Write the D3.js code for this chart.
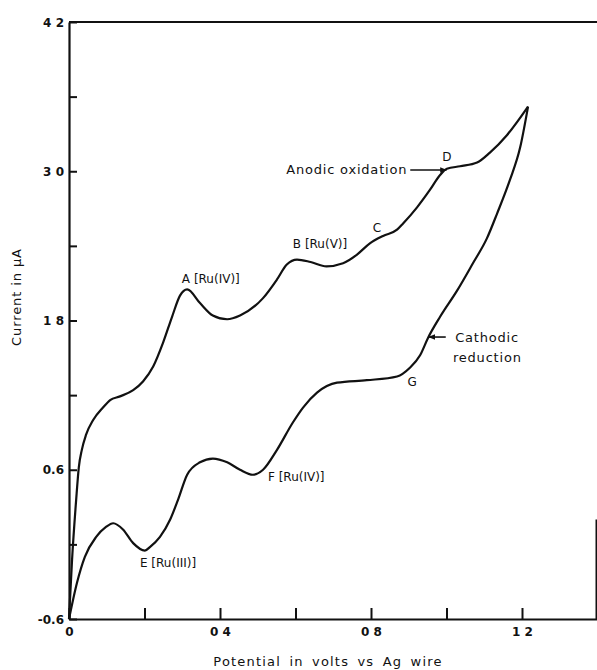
<!DOCTYPE html>
<html>
<head>
<meta charset="utf-8">
<script src="https://cdn.jsdelivr.net/npm/d3@7"></script>
<style>
  body { margin: 0; background: #fff; }
  svg { display: block; }
  text { font-family: "DejaVu Sans", sans-serif; fill: #111; }
  .tick text { font-weight: bold; font-size: 12px; }
  .ann { font-size: 12px; }
  .ann.wide { font-size: 13px; letter-spacing: 0.8px; }
</style>
</head>
<body>
<div id="chart"></div>
<script>
// anodic sweep (upper branch), potential in V, current in uA
var anodicV = [0, 0.008, 0.019, 0.026, 0.034, 0.045, 0.064, 0.090, 0.109, 0.135, 0.170, 0.196, 0.223, 0.249, 0.273, 0.294, 0.313,
  0.347, 0.381, 0.419, 0.453, 0.514, 0.551, 0.577, 0.604, 0.640, 0.682, 0.726, 0.763, 0.797, 0.832, 0.869,
  0.885, 0.922, 0.956, 0.983, 1.001, 1.036, 1.081, 1.115, 1.160, 1.216];
var anodicI = [-0.6, -0.13, 0.36, 0.62, 0.76, 0.88, 1.00, 1.10, 1.16, 1.19, 1.24, 1.31, 1.43, 1.62, 1.83, 2.00, 2.05,
  1.94, 1.84, 1.81, 1.84, 1.98, 2.13, 2.25, 2.29, 2.27, 2.235, 2.26, 2.33, 2.42, 2.48, 2.53,
  2.58, 2.71, 2.85, 2.97, 3.02, 3.04, 3.07, 3.15, 3.29, 3.52];
// cathodic sweep (lower branch), from the turning point back to 0 V
var cathodicV = [1.216, 1.195, 1.168, 1.134, 1.107, 1.070, 1.028, 0.983, 0.951, 0.930, 0.903, 0.869, 0.789, 0.710,
  0.657, 0.620, 0.593, 0.551, 0.514, 0.487, 0.453, 0.419, 0.381, 0.347, 0.313, 0.289, 0.268, 0.241, 0.215, 0.201,
  0.170, 0.143, 0.117, 0.098, 0.072, 0.042, 0.021, 0];
var cathodicI = [3.52, 3.19, 2.93, 2.66, 2.46, 2.26, 2.04, 1.83, 1.66, 1.52, 1.42, 1.35, 1.32, 1.30,
  1.22, 1.10, 0.98, 0.76, 0.60, 0.56, 0.60, 0.66, 0.69, 0.66, 0.56, 0.36, 0.20, 0.06, -0.02, -0.05,
  0.01, 0.12, 0.17, 0.14, 0.06, -0.10, -0.31, -0.6];

var xTicks = [0, 0.2, 0.4, 0.6, 0.8, 1.0, 1.2];
var xTickLabels = ["0", "", "0 4", "", "0 8", "", "1 2"];
var yTicks = [-0.6, 0, 0.6, 1.2, 1.8, 2.4, 3.0, 3.6, 4.2];
var yTickLabels = ["-0.6", "", "0.6", "", "1 8", "", "3 0", "", "4 2"];

// text labels placed at data coordinates
var labels = [
  {text: "A [Ru(IV)]", v: 0.299, i: 2.10, anchor: "start", cls: "ann"},
  {text: "B [Ru(V)]", v: 0.593, i: 2.38, anchor: "start", cls: "ann"},
  {text: "C", v: 0.816, i: 2.51, anchor: "middle", cls: "ann"},
  {text: "D", v: 1.001, i: 3.08, anchor: "middle", cls: "ann"},
  {text: "Anodic oxidation", v: 0.896, i: 2.98, anchor: "end", cls: "ann wide"},
  {text: "Cathodic", v: 1.023, i: 1.63, anchor: "start", cls: "ann wide"},
  {text: "reduction", v: 1.017, i: 1.47, anchor: "start", cls: "ann wide"},
  {text: "G", v: 0.909, i: 1.27, anchor: "middle", cls: "ann"},
  {text: "F [Ru(IV)]", v: 0.527, i: 0.51, anchor: "start", cls: "ann"},
  {text: "E [Ru(III)]", v: 0.188, i: -0.18, anchor: "start", cls: "ann"}
];
var arrows = [
  {v0: 0.904, i0: 3.01, v1: 1.000, i1: 3.01},
  {v0: 0.998, i0: 1.667, v1: 0.953, i1: 1.667}
];

var W = 597, H = 670;
var svg = d3.select("#chart").append("svg")
  .attr("width", W)
  .attr("height", H);

var x = d3.scaleLinear().domain([0, 1.4]).range([69, 597.5]);
var y = d3.scaleLinear().domain([-0.6, 4.2]).range([619, 22]);

svg.append("defs").append("marker")
  .attr("id", "head")
  .attr("viewBox", "0 0 10 10")
  .attr("refX", 9).attr("refY", 5)
  .attr("markerWidth", 7).attr("markerHeight", 7)
  .attr("markerUnits", "userSpaceOnUse")
  .attr("orient", "auto")
  .append("path")
  .attr("d", "M0,1 L10,5 L0,9 Z")
  .attr("fill", "#111");

// axes, ticks pointing inwards
var xAxis = d3.axisBottom(x)
  .tickValues(xTicks)
  .tickSizeInner(-11).tickSizeOuter(0)
  .tickPadding(8)
  .tickFormat(function(d, i) { return xTickLabels[i]; });
var gx = svg.append("g")
  .attr("transform", "translate(0," + y(-0.6) + ")")
  .call(xAxis);

var yAxis = d3.axisLeft(y)
  .tickValues(yTicks)
  .tickSizeInner(-8).tickSizeOuter(0)
  .tickPadding(5)
  .tickFormat(function(d, i) { return yTickLabels[i]; });
var gy = svg.append("g")
  .attr("transform", "translate(" + x(0) + ",0)")
  .call(yAxis);

[gx, gy].forEach(function(g) {
  g.select(".domain").attr("stroke", "#111").attr("stroke-width", 2.2);
  g.selectAll(".tick line").attr("stroke", "#111").attr("stroke-width", 2);
  g.selectAll(".tick text").attr("fill", "#111");
});
gy.selectAll(".tick text").attr("dy", "0.35em");

// top edge and the short piece of right edge
svg.append("line")
  .attr("x1", x(0)).attr("x2", x(1.4))
  .attr("y1", y(4.2)).attr("y2", y(4.2))
  .attr("stroke", "#111").attr("stroke-width", 2.2);
svg.append("line")
  .attr("x1", x(1.4) - 1).attr("x2", x(1.4) - 1)
  .attr("y1", y(-0.6)).attr("y2", y(0.2))
  .attr("stroke", "#111").attr("stroke-width", 2);

// axis titles
svg.append("text")
  .attr("x", 328).attr("y", 666)
  .attr("text-anchor", "middle")
  .style("font-size", "13px")
  .style("letter-spacing", "1.2px")
  .style("word-spacing", "3px")
  .text("Potential in volts vs Ag wire");
svg.append("text")
  .attr("transform", "translate(21,297) rotate(-90)")
  .attr("text-anchor", "middle")
  .style("font-size", "13px")
  .style("letter-spacing", "0.9px")
  .text("Current in μA");

// voltammogram, both branches drawn left to right
var line = d3.line()
  .x(function(d) { return x(d[0]); })
  .y(function(d) { return y(d[1]); })
  .curve(d3.curveMonotoneX);

var anodic = anodicV.map(function(v, k) { return [v, anodicI[k]]; });
var cathodic = cathodicV.map(function(v, k) { return [v, cathodicI[k]]; }).reverse();

[anodic, cathodic].forEach(function(branch) {
  svg.append("path")
    .datum(branch)
    .attr("d", line)
    .attr("fill", "none")
    .attr("stroke", "#111")
    .attr("stroke-width", 2.2)
    .attr("stroke-linejoin", "round");
});

// annotations
svg.selectAll("line.arrow")
  .data(arrows)
  .enter().append("line")
  .attr("class", "arrow")
  .attr("x1", function(d) { return x(d.v0); })
  .attr("y1", function(d) { return y(d.i0); })
  .attr("x2", function(d) { return x(d.v1); })
  .attr("y2", function(d) { return y(d.i1); })
  .attr("stroke", "#111")
  .attr("stroke-width", 1.6)
  .attr("marker-end", "url(#head)");

svg.selectAll("text.ann")
  .data(labels)
  .enter().append("text")
  .attr("class", function(d) { return d.cls; })
  .attr("x", function(d) { return x(d.v); })
  .attr("y", function(d) { return y(d.i); })
  .attr("text-anchor", function(d) { return d.anchor; })
  .text(function(d) { return d.text; });
</script>
</body>
</html>
